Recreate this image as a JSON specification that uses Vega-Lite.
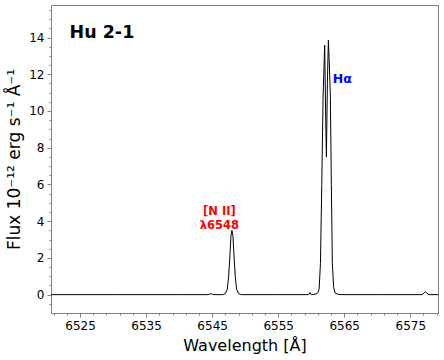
{
  "$schema": "https://vega.github.io/schema/vega-lite/v6.json",
  "autosize": "none",
  "width": 387,
  "height": 308,
  "padding": {"left": 51, "top": 5, "right": 6, "bottom": 47},
  "config": {
    "font": "DejaVu Sans",
    "view": {"stroke": "#808080", "strokeWidth": 1},
    "axis": {"grid": false, "domainColor": "#808080", "tickColor": "#808080", "labelColor": "black", "titleColor": "black", "labelFont": "DejaVu Sans", "titleFont": "DejaVu Sans", "titleFontWeight": "normal"}
  },
  "resolve": {"axis": {"x": "independent", "y": "independent"}, "scale": {"x": "shared", "y": "shared"}},
  "datasets": {
    "spec": [
      {"lam": 6520.6, "flux": 0.0},
      {"lam": 6530.0, "flux": 0.0},
      {"lam": 6540.0, "flux": 0.0},
      {"lam": 6544.4, "flux": 0.0},
      {"lam": 6544.8, "flux": 0.05},
      {"lam": 6545.2, "flux": 0.0},
      {"lam": 6546.6, "flux": 0.0},
      {"lam": 6547.0, "flux": 0.05},
      {"lam": 6547.3, "flux": 0.3},
      {"lam": 6547.5, "flux": 1.0},
      {"lam": 6547.7, "flux": 2.2},
      {"lam": 6547.85, "flux": 3.2},
      {"lam": 6548.0, "flux": 3.5},
      {"lam": 6548.15, "flux": 3.2},
      {"lam": 6548.3, "flux": 2.2},
      {"lam": 6548.5, "flux": 1.0},
      {"lam": 6548.7, "flux": 0.3},
      {"lam": 6549.0, "flux": 0.05},
      {"lam": 6549.4, "flux": 0.0},
      {"lam": 6555.0, "flux": 0.0},
      {"lam": 6559.6, "flux": 0.0},
      {"lam": 6559.8, "flux": 0.12},
      {"lam": 6560.0, "flux": 0.0},
      {"lam": 6560.6, "flux": 0.02},
      {"lam": 6561.0, "flux": 0.1},
      {"lam": 6561.2, "flux": 0.3},
      {"lam": 6561.4, "flux": 1.7},
      {"lam": 6561.6, "flux": 6.0},
      {"lam": 6561.8, "flux": 10.8},
      {"lam": 6562.04, "flux": 13.58},
      {"lam": 6562.2, "flux": 9.5},
      {"lam": 6562.3, "flux": 7.5},
      {"lam": 6562.45, "flux": 11.5},
      {"lam": 6562.6, "flux": 13.85},
      {"lam": 6562.75, "flux": 12.5},
      {"lam": 6562.9, "flux": 10.8},
      {"lam": 6563.05, "flux": 6.0},
      {"lam": 6563.2, "flux": 1.7},
      {"lam": 6563.4, "flux": 0.4},
      {"lam": 6563.6, "flux": 0.1},
      {"lam": 6564.0, "flux": 0.02},
      {"lam": 6564.5, "flux": 0.0},
      {"lam": 6570.0, "flux": 0.0},
      {"lam": 6576.8, "flux": 0.0},
      {"lam": 6577.1, "flux": 0.1},
      {"lam": 6577.3, "flux": 0.15},
      {"lam": 6577.5, "flux": 0.1},
      {"lam": 6577.8, "flux": 0.0},
      {"lam": 6579.2, "flux": 0.0}
    ],
    "labels": [
      {"lam": 6523.4, "flux": 14.23, "text": "Hu 2-1", "kind": "title"},
      {"lam": 6546.1, "flux": 4.48, "text": "[N II]", "kind": "nii"},
      {"lam": 6546.1, "flux": 3.72, "text": "λ6548", "kind": "nii"},
      {"lam": 6563.25, "flux": 11.73, "text": "Hα", "kind": "ha"}
    ]
  },
  "layer": [
    {
      "data": {"name": "spec"},
      "mark": {"type": "line", "opacity": 0, "clip": true},
      "encoding": {
        "x": {"field": "lam", "type": "quantitative", "scale": {"domain": [6520.6, 6579.2], "nice": false, "zero": false},
          "axis": {"orient": "bottom", "title": null, "labels": false, "domain": false, "tickSize": 2, "values": [6521, 6523, 6527, 6529, 6531, 6533, 6537, 6539, 6541, 6543, 6547, 6549, 6551, 6553, 6557, 6559, 6561, 6563, 6567, 6569, 6571, 6573, 6577, 6579]}},
        "y": {"field": "flux", "type": "quantitative", "scale": {"domain": [-1, 15.77], "nice": false, "zero": false},
          "axis": {"orient": "left", "title": null, "labels": false, "domain": false, "tickSize": 2, "values": [-0.5, 0.5, 1, 1.5, 2.5, 3, 3.5, 4.5, 5, 5.5, 6.5, 7, 7.5, 8.5, 9, 9.5, 10.5, 11, 11.5, 12.5, 13, 13.5, 14.5, 15, 15.5]}}
      }
    },
    {
      "data": {"name": "spec"},
      "mark": {"type": "line", "color": "black", "strokeWidth": 1, "clip": true},
      "encoding": {
        "x": {"field": "lam", "type": "quantitative",
          "axis": {"orient": "bottom", "title": "Wavelength [Å]", "values": [6525, 6535, 6545, 6555, 6565, 6575], "labelFontSize": 12, "titleFontSize": 16, "tickSize": 4, "labelPadding": 3, "titlePadding": 6, "format": "d"}},
        "y": {"field": "flux", "type": "quantitative",
          "axis": {"orient": "left", "title": "Flux 10⁻¹² erg s⁻¹ Å⁻¹", "values": [0, 2, 4, 6, 8, 10, 12, 14], "labelFontSize": 12, "titleFontSize": 17, "tickSize": 4, "labelPadding": 3, "titlePadding": 5}}
      }
    },
    {
      "data": {"name": "labels"},
      "transform": [{"filter": "datum.kind == 'title'"}],
      "mark": {"type": "text", "align": "left", "baseline": "middle", "fontSize": 17.5, "fontWeight": "bold", "color": "black"},
      "encoding": {"x": {"field": "lam", "type": "quantitative", "axis": null}, "y": {"field": "flux", "type": "quantitative", "axis": null}, "text": {"field": "text"}}
    },
    {
      "data": {"name": "labels"},
      "transform": [{"filter": "datum.kind == 'nii'"}],
      "mark": {"type": "text", "align": "center", "baseline": "middle", "fontSize": 11.5, "fontWeight": "bold", "color": "red"},
      "encoding": {"x": {"field": "lam", "type": "quantitative", "axis": null}, "y": {"field": "flux", "type": "quantitative", "axis": null}, "text": {"field": "text"}}
    },
    {
      "data": {"name": "labels"},
      "transform": [{"filter": "datum.kind == 'ha'"}],
      "mark": {"type": "text", "align": "left", "baseline": "middle", "fontSize": 12.5, "fontWeight": "bold", "color": "blue"},
      "encoding": {"x": {"field": "lam", "type": "quantitative", "axis": null}, "y": {"field": "flux", "type": "quantitative", "axis": null}, "text": {"field": "text"}}
    }
  ]
}
